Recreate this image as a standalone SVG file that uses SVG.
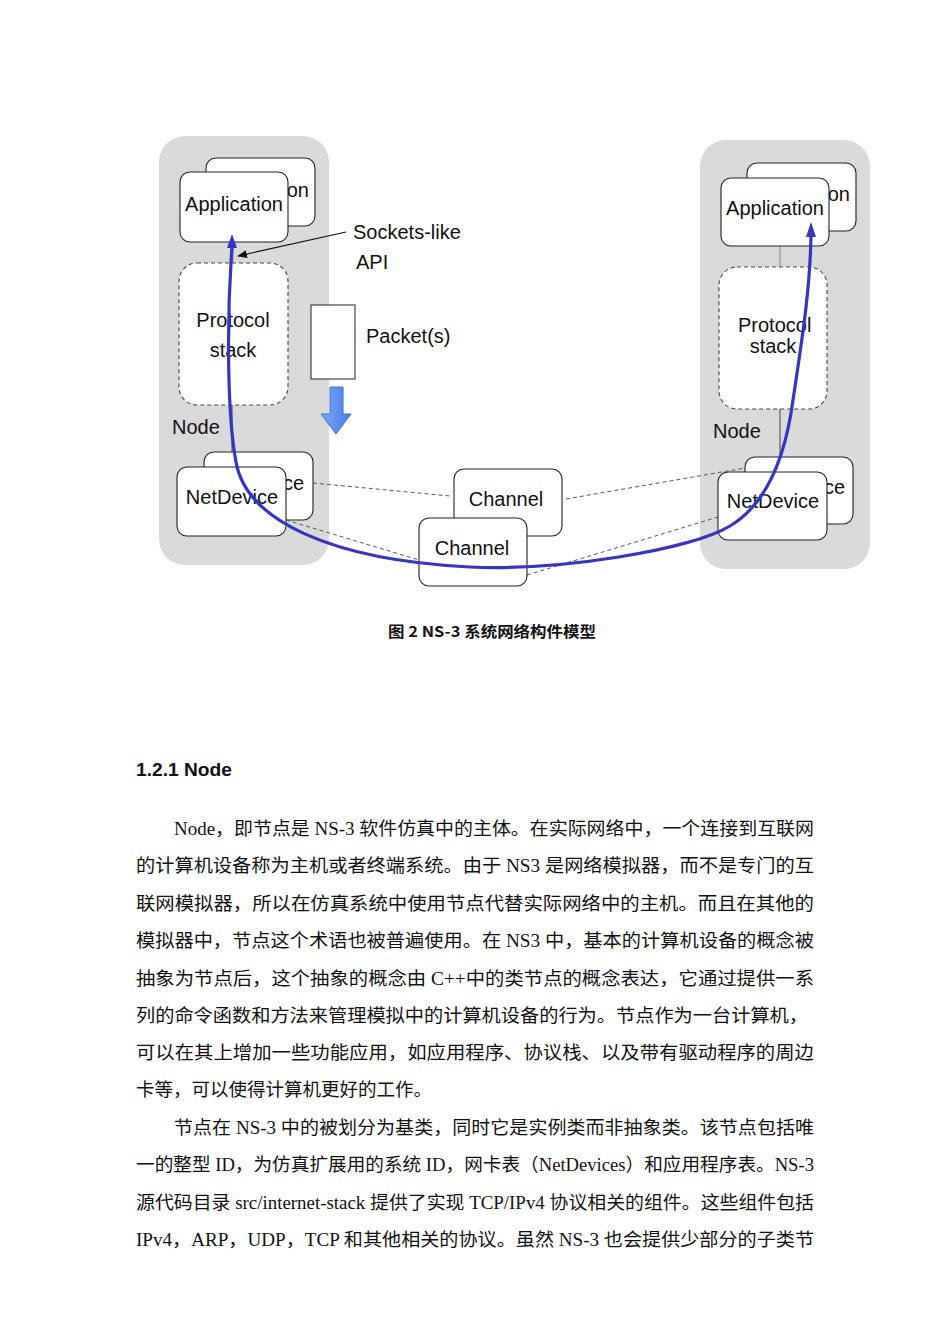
<svg xmlns="http://www.w3.org/2000/svg" width="950" height="1344" viewBox="0 0 950 1344">
<defs>
<style>
.nodebg{fill:#dadada;stroke:none}
.box{fill:#fff;stroke:#222;stroke-width:1.1}
.dbox{fill:#fff;stroke:#444;stroke-width:1.1;stroke-dasharray:4,3}
.lbl{font-family:"Liberation Sans",Arial,sans-serif;font-size:20px;fill:#111}
.mid{text-anchor:middle}
.end{text-anchor:end}
.dash{fill:none;stroke:#555;stroke-width:1;stroke-dasharray:4,3}
.flow{fill:none;stroke:#3535c0;stroke-width:3.2}
.body{font-family:"Liberation Serif","Noto Sans CJK SC",serif;font-size:18.5px;fill:#111}
</style>
<linearGradient id="bg" x1="0" y1="0" x2="1" y2="0">
<stop offset="0" stop-color="#7aa6f5"/>
<stop offset="1" stop-color="#4a7fe8"/>
</linearGradient>
<marker id="ah" markerWidth="10" markerHeight="8" refX="9" refY="4" orient="auto" markerUnits="userSpaceOnUse">
<path d="M0,0 L10,4 L0,8 Z" fill="#111"/>
</marker>
</defs>
<rect width="950" height="1344" fill="#fff"/>

<g id="node-left">
<rect class="nodebg" x="159" y="136" width="170" height="429" rx="26"/>
<line x1="233" y1="242" x2="233" y2="263" stroke="#888" stroke-width="1"/>
<line x1="232" y1="405" x2="232" y2="452" stroke="#444" stroke-width="1"/>
<text class="lbl" x="172" y="434">Node</text>
</g>
<g id="app-left">
<rect class="box" x="206" y="158" width="109" height="68" rx="10"/>
<text class="lbl end" x="309" y="197">on</text>
<rect class="box" x="180" y="172" width="108" height="70" rx="10"/>
<text class="lbl mid" x="234" y="211">Application</text>
</g>
<g id="stack-left">
<rect class="dbox" x="179" y="263" width="109" height="142" rx="18"/>
<text class="lbl mid" x="233" y="327">Protocol</text>
<text class="lbl mid" x="233" y="357">stack</text>
</g>
<g id="netdev-left">
<rect class="box" x="204" y="452" width="109" height="68" rx="10"/>
<text class="lbl end" x="304" y="490">ce</text>
<rect class="box" x="177" y="467" width="109" height="69" rx="10"/>
<text class="lbl mid" x="232" y="504">NetDevice</text>
</g>

<g id="node-right">
<rect class="nodebg" x="700" y="140" width="170" height="429" rx="26"/>
<line x1="780" y1="246" x2="780" y2="267" stroke="#888" stroke-width="1"/>
<line x1="780" y1="409" x2="780" y2="457" stroke="#444" stroke-width="1"/>
<text class="lbl" x="713" y="438">Node</text>
</g>
<g id="app-right">
<rect class="box" x="747" y="163" width="109" height="68" rx="10"/>
<text class="lbl end" x="850" y="201">on</text>
<rect class="box" x="721" y="178" width="108" height="68" rx="10"/>
<text class="lbl mid" x="775" y="215">Application</text>
</g>
<g id="stack-right">
<rect class="dbox" x="719" y="267" width="108" height="142" rx="18"/>
<text class="lbl" x="738" y="332">Protocol</text>
<text class="lbl mid" x="773" y="353">stack</text>
</g>
<g id="netdev-right">
<rect class="box" x="745" y="457" width="108" height="67" rx="10"/>
<text class="lbl end" x="845" y="494">ce</text>
<rect class="box" x="718" y="472" width="109" height="68" rx="10"/>
<text class="lbl mid" x="773" y="508">NetDevice</text>
</g>

<g id="connectors">
<path class="dash" d="M313,483 L450,496"/>
<path class="dash" d="M286,520 L419,560"/>
<path class="dash" d="M566,499 L745,468"/>
<path class="dash" d="M527,575 L718,517"/>
<line x1="346" y1="232" x2="238" y2="256" stroke="#111" stroke-width="1.2" marker-end="url(#ah)"/>
</g>

<g id="channel-back">
<rect class="box" x="454" y="469" width="108" height="67" rx="10"/>
<text class="lbl mid" x="506" y="506">Channel</text>
</g>
<g id="channel-front">
<rect class="box" x="419" y="518" width="108" height="68" rx="10"/>
<text class="lbl mid" x="472" y="555">Channel</text>
</g>

<g id="packet">
<rect x="311" y="305" width="44" height="74" fill="#fff" stroke="#222" stroke-width="1"/>
<text class="lbl" x="366" y="343">Packet(s)</text>
<path d="M330,387 L343,387 L343,414 L351,414 L336,434 L321,414 L330,414 Z" fill="url(#bg)" stroke="#3d6fd6" stroke-width="1"/>
</g>
<g id="labels">
<text class="lbl" x="353" y="239">Sockets-like</text>
<text class="lbl" x="356" y="269">API</text>
</g>

<g id="flow">
<path class="flow" d="M232,246 C226,330 228,420 236,462 C246,520 330,560 470,567 C560,571 690,550 730,526 C765,505 785,460 793,400 C802,340 810,290 811,236"/>
<path d="M232,234 L237,248 L227,248 Z" fill="#3535c0"/>
<path d="M811,222 L816,237 L806,237 Z" fill="#3535c0"/>
</g>

<g id="caption">
<text x="388" y="637" font-family="'Noto Sans CJK SC',sans-serif" font-weight="bold" font-size="15" fill="#111" textLength="208" lengthAdjust="spacingAndGlyphs">图 2 NS-3 系统网络构件模型</text>
</g>

<g id="text">
<text x="136" y="776" font-family="'Liberation Sans',Arial,sans-serif" font-weight="bold" font-size="18.5" fill="#111" textLength="96" lengthAdjust="spacingAndGlyphs">1.2.1 Node</text>
<text class="body" x="174" y="835" textLength="640" lengthAdjust="spacingAndGlyphs">Node，即节点是 NS-3 软件仿真中的主体。在实际网络中，一个连接到互联网</text>
<text class="body" x="136" y="872" textLength="678" lengthAdjust="spacingAndGlyphs">的计算机设备称为主机或者终端系统。由于 NS3 是网络模拟器，而不是专门的互</text>
<text class="body" x="136" y="910" textLength="678" lengthAdjust="spacingAndGlyphs">联网模拟器，所以在仿真系统中使用节点代替实际网络中的主机。而且在其他的</text>
<text class="body" x="136" y="947" textLength="678" lengthAdjust="spacingAndGlyphs">模拟器中，节点这个术语也被普遍使用。在 NS3 中，基本的计算机设备的概念被</text>
<text class="body" x="136" y="985" textLength="678" lengthAdjust="spacingAndGlyphs">抽象为节点后，这个抽象的概念由 C++中的类节点的概念表达，它通过提供一系</text>
<text class="body" x="136" y="1022" textLength="672" lengthAdjust="spacingAndGlyphs">列的命令函数和方法来管理模拟中的计算机设备的行为。节点作为一台计算机，</text>
<text class="body" x="136" y="1059" textLength="678" lengthAdjust="spacingAndGlyphs">可以在其上增加一些功能应用，如应用程序、协议栈、以及带有驱动程序的周边</text>
<text class="body" x="136" y="1096" textLength="296" lengthAdjust="spacingAndGlyphs">卡等，可以使得计算机更好的工作。</text>
<text class="body" x="174" y="1134" textLength="640" lengthAdjust="spacingAndGlyphs">节点在 NS-3 中的被划分为基类，同时它是实例类而非抽象类。该节点包括唯</text>
<text class="body" x="136" y="1171" textLength="678" lengthAdjust="spacingAndGlyphs">一的整型 ID，为仿真扩展用的系统 ID，网卡表（NetDevices）和应用程序表。NS-3</text>
<text class="body" x="136" y="1209" textLength="678" lengthAdjust="spacingAndGlyphs">源代码目录 src/internet-stack 提供了实现 TCP/IPv4 协议相关的组件。这些组件包括</text>
<text class="body" x="136" y="1246" textLength="678" lengthAdjust="spacingAndGlyphs">IPv4，ARP，UDP，TCP 和其他相关的协议。虽然 NS-3 也会提供少部分的子类节</text>
</g>
</svg>
